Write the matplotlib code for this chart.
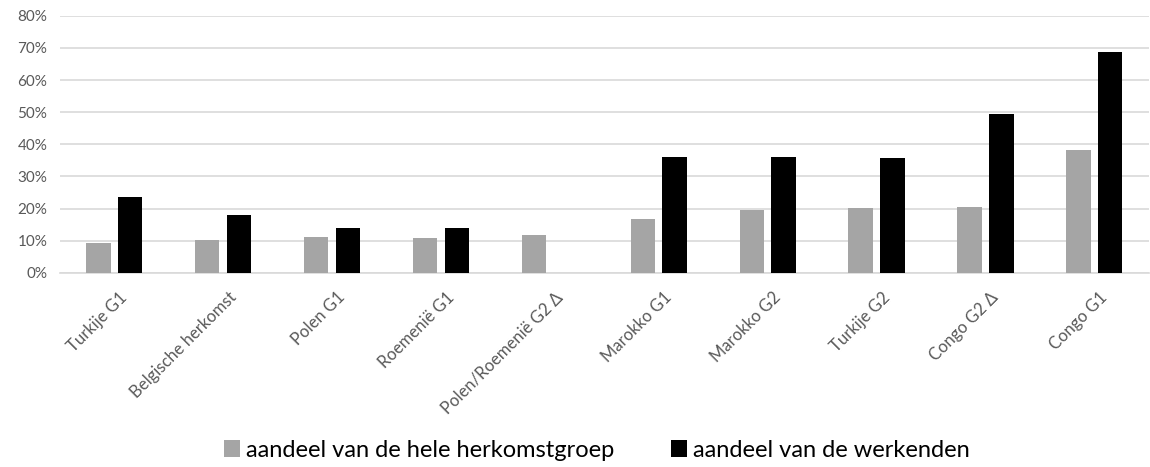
import numpy as np
import matplotlib.pyplot as plt
import matplotlib.transforms as mtransforms
from matplotlib.ticker import PercentFormatter

plt.rcParams['font.family'] = ['Lato', 'DejaVu Sans']

# Data
categories = ['Turkije G1', 'Belgische herkomst', 'Polen G1', 'Roemenië G1',
              'Polen/Roemenië G2 Δ', 'Marokko G1', 'Marokko G2', 'Turkije G2',
              'Congo G2 Δ', 'Congo G1']
hele_groep = [9.4, 10.1, 11.0, 10.8, 11.7, 16.7, 19.4, 20.1, 20.5, 38.1]
werkenden = [23.7, 18.1, 13.8, 13.9, np.nan, 36.1, 35.9, 35.7, 49.3, 68.7]

x = np.arange(len(categories))
width = 0.224
offset = 0.146

fig = plt.figure(figsize=(11.5, 4.67), dpi=100)
ax = fig.add_axes([0.052, 0.416, 0.947, 0.55])

ax.bar(x - offset, hele_groep, width, color='#a5a5a5',
       label='aandeel van de hele herkomstgroep', zorder=3)
ax.bar(x + offset, werkenden, width, color='#000000',
       label='aandeel van de werkenden', zorder=3)

ax.set_xlim(-0.5, len(categories) - 0.5)
ax.set_ylim(0, 80)
ax.set_yticks(np.arange(0, 81, 10))
ax.yaxis.set_major_formatter(PercentFormatter(decimals=0))
ax.yaxis.grid(True, color='#d9d9d9', linewidth=1.2, zorder=0)

for s in ['top', 'right', 'left']:
    ax.spines[s].set_visible(False)
ax.spines['bottom'].set_color('#d9d9d9')
ax.spines['bottom'].set_linewidth(1.2)

ax.tick_params(axis='y', length=0, colors='#595959', labelsize=11, pad=9)
ax.set_xticks(x)
ax.set_xticklabels(categories, rotation=45, ha='right', rotation_mode='anchor')
ax.tick_params(axis='x', length=0, colors='#595959', labelsize=12, pad=12)

# shift rotated labels a bit to the right
shift = mtransforms.ScaledTranslation(0.05, 0, fig.dpi_scale_trans)
for lbl in ax.get_xticklabels():
    lbl.set_transform(lbl.get_transform() + shift)

fig.legend(loc='center', bbox_to_anchor=(0.519, 0.036), ncol=2,
           frameon=False, fontsize=17, handlelength=0.68, handleheight=0.68,
           handletextpad=0.25, columnspacing=2.4, borderpad=0,
           labelcolor='#000000')

fig.savefig('out.png', dpi=100)
